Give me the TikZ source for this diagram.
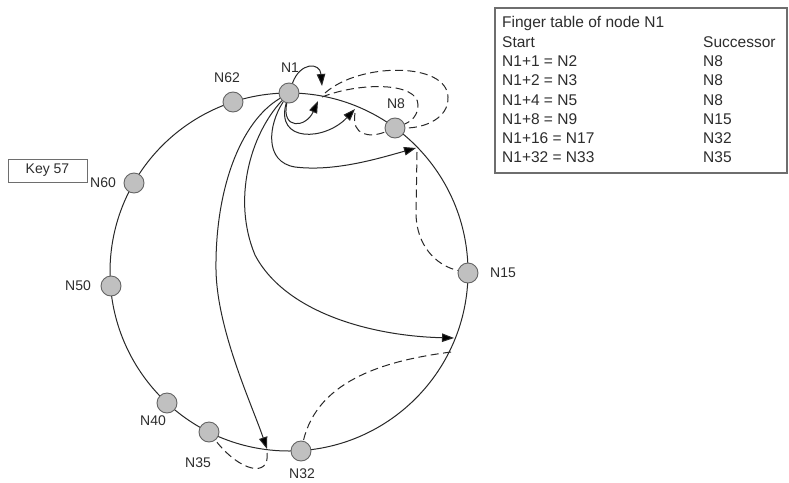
\documentclass[tikz,border=0pt]{standalone}
\usepackage{fontspec}
\setmainfont{Liberation Sans}
\usetikzlibrary{arrows.meta}
\definecolor{ringc}{RGB}{40,40,40}
\definecolor{peerfill}{RGB}{192,192,192}
\definecolor{peerdraw}{RGB}{100,100,100}
\definecolor{txt}{RGB}{45,45,45}
\definecolor{boxc}{RGB}{110,110,110}
\begin{document}
\begin{tikzpicture}[x=1pt,y=-1pt,
  ring/.style={draw=ringc, line width=1pt},
  peer/.style={circle, draw=peerdraw, fill=peerfill, line width=0.9pt, minimum size=20pt, inner sep=0pt},
  lbl/.style={text=txt, font=\fontsize{14}{16}\selectfont, inner sep=0pt},
  finger/.style={draw=ringc, line width=1pt, -{Triangle[length=12pt,width=8.5pt,fill=black]}},
  succ/.style={draw=ringc, line width=1pt, dash pattern=on 8pt off 4.5pt},
  tabtxt/.style={text=txt, font=\fontsize{15.5}{18}\selectfont, anchor=west, inner sep=0pt},
]
\useasboundingbox (0,0) rectangle (789,482);
\fill[white] (0,0) rectangle (789,482);

% ring
\draw[ring] (289,272) circle[radius=179pt];

% peers
\node[peer] (n1)  at (289,93) {};
\node[peer] (n62) at (233,102) {};
\node[peer] (n8)  at (395,128) {};
\node[peer] (n60) at (134,183) {};
\node[peer] (n15) at (468,273) {};
\node[peer] (n50) at (111,286) {};
\node[peer] (n40) at (167,403) {};
\node[peer] (n35) at (209,432) {};
\node[peer] (n32) at (301,451) {};

% labels
\node[lbl] (l1)  at (290,68) {N1};
\node[lbl] (l62) at (227,78) {N62};
\node[lbl] (l8)  at (396,104) {N8};
\node[lbl] (l60) at (103,183) {N60};
\node[lbl] (l15) at (503,273) {N15};
\node[lbl] (l50) at (78,286) {N50};
\node[lbl] (l40) at (153,421) {N40};
\node[lbl] (l35) at (198,463) {N35};
\node[lbl] (l32) at (302,474) {N32};

% key box
\node[lbl, draw=boxc, line width=0.9pt, minimum width=79pt, minimum height=23pt] (key) at (47.5,170.5) {Key 57};

% finger table
\node[draw=boxc, line width=1.2pt, minimum width=292pt, minimum height=165pt, inner sep=0pt] (tab) at (641,90.5) {};
\node[tabtxt] (t0) at (502,23) {Finger table of node N1};
\node[tabtxt] (t1) at (502,42) {Start};
\node[tabtxt] (t1s) at (703,42) {Successor};
\node[tabtxt] (t2) at (502,61.5) {N1+1 = N2};
\node[tabtxt] (t2s) at (703,61.5) {N8};
\node[tabtxt] (t3) at (502,80.5) {N1+2 = N3};
\node[tabtxt] (t3s) at (703,80.5) {N8};
\node[tabtxt] (t4) at (502,100) {N1+4 = N5};
\node[tabtxt] (t4s) at (703,100) {N8};
\node[tabtxt] (t5) at (502,119) {N1+8 = N9};
\node[tabtxt] (t5s) at (703,119) {N15};
\node[tabtxt] (t6) at (502,138) {N1+16 = N17};
\node[tabtxt] (t6s) at (703,138) {N32};
\node[tabtxt] (t7) at (502,157) {N1+32 = N33};
\node[tabtxt] (t7s) at (703,157) {N35};

% finger targets on the ring
\coordinate (a2) at (322,86);
\coordinate (s2) at (325,93);
\coordinate (a3) at (318,101);
\coordinate (s3) at (322,97);
\coordinate (a5) at (355,109);
\coordinate (s5) at (355,113);
\coordinate (a9) at (416,148);
\coordinate (s9) at (417,152);
\coordinate (a17) at (454,338);
\coordinate (s17) at (451,352);
\coordinate (a33) at (267,449);
\coordinate (s33) at (267,453);

% finger arrows
\draw[finger] (n1) .. controls (300,62) and (320,62) .. (a2);
\draw[finger] (n1) .. controls (281,130) and (306,128) .. (a3);
\draw[finger] (n1) .. controls (275,143) and (325,141) .. (a5);
\draw[finger] (n1) .. controls (268,125) and (264,162) .. (295,167) .. controls (335,172) and (380,158) .. (a9);
\draw[finger] (n1) .. controls (250,135) and (232,200) .. (255,255) .. controls (285,312) and (370,336) .. (a17);
\draw[finger] (n1) .. controls (240,122) and (215,190) .. (216,270) .. controls (217,330) and (252,405) .. (a33);

% successor lookups
\draw[succ] (s2) .. controls (360,62) and (447,62) .. (448,97) .. controls (449,118) and (425,128) .. (n8);
\draw[succ] (s3) .. controls (360,82) and (418,82) .. (418,105) .. controls (418,115) and (412,121) .. (n8);
\draw[succ] (s5) .. controls (351,136) and (370,138) .. (n8);
\draw[succ] (s9) -- (416,215) .. controls (417,245) and (435,265) .. (n15);
\draw[succ] (s17) .. controls (390,360) and (318,378) .. (n32);
\draw[succ] (s33) .. controls (270,478) and (240,472) .. (n35);
\end{tikzpicture}
\end{document}
